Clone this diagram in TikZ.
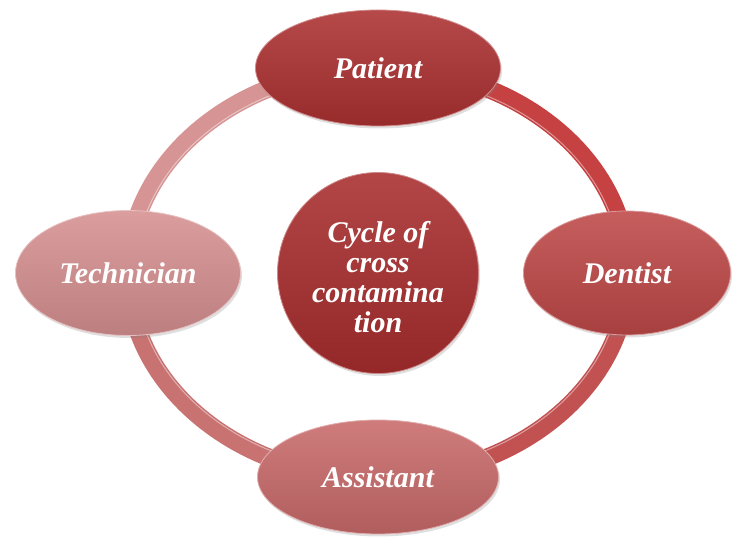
\documentclass[tikz,border=0pt]{standalone}
\usepackage{fontspec}
\setmainfont{Liberation Serif}
\usetikzlibrary{shapes.geometric,shadows}

\definecolor{patientred}{HTML}{AC3030}
\definecolor{dentistred}{HTML}{BE4848}
\definecolor{assistantred}{HTML}{C96A6A}
\definecolor{technicianred}{HTML}{D69090}
\definecolor{cyclered}{HTML}{A82D2D}

\begin{document}
\begin{tikzpicture}[x=1pt,y=1pt,
	member/.style={ellipse, inner sep=0pt, text=white,
		font=\bfseries\itshape\fontsize{30}{30}\selectfont,
		drop shadow={shadow xshift=1.5pt, shadow yshift=-2.5pt, opacity=0.25}},
	tint/.style={top color=#1!88!white, bottom color=#1!88!black, draw=#1!55!white, line width=0.8pt},
	ring/.style={line width=18pt, line cap=butt},
	gloss/.style={line width=1pt, white, opacity=0.45}]
	\useasboundingbox (0,0) rectangle (732,538);
	\coordinate (ringc) at (378,265);
	% ring, one arc per step of the cycle
	\draw [ring, color={rgb,255:red,198;green,66;blue,66}] (378,470) arc[start angle=90, end angle=0, x radius=250, y radius=205];
	\draw [ring, color={rgb,255:red,194;green,82;blue,82}] (628,265) arc[start angle=0, end angle=-90, x radius=250, y radius=205];
	\draw [ring, color={rgb,255:red,200;green,114;blue,114}] (378,60) arc[start angle=270, end angle=180, x radius=250, y radius=205];
	\draw [ring, color={rgb,255:red,214;green,148;blue,148}] (128,265) arc[start angle=180, end angle=90, x radius=250, y radius=205];
	\draw [gloss] (ringc) ellipse[x radius=243, y radius=198];
	% members of the cycle
	\node (patient) [member, tint=patientred, minimum width=245pt, minimum height=116pt] at (378,470) {Patient};
	\node (dentist) [member, tint=dentistred, minimum width=207pt, minimum height=124pt] at (627,265) {Dentist};
	\node (assistant) [member, tint=assistantred, minimum width=241pt, minimum height=114pt] at (378,61) {Assistant};
	\node (technician) [member, tint=technicianred, minimum width=225pt, minimum height=125pt] at (128,265) {Technician};
	\node (cycle) [member, circle, tint=cyclered, minimum size=201pt] at (ringc) {\parbox{140pt}{\centering\vspace*{8pt}Cycle of\\cross\\contamina\\tion}};
\end{tikzpicture}
\end{document}
